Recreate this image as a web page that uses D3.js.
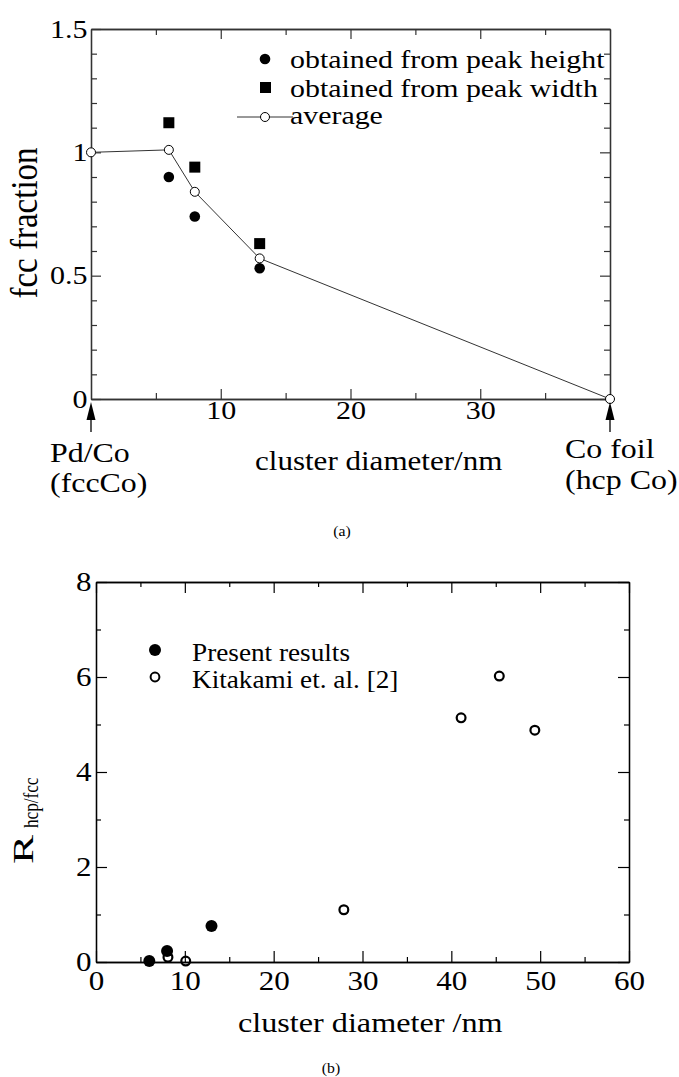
<!DOCTYPE html>
<html>
<head>
<meta charset="utf-8">
<script src="https://cdn.jsdelivr.net/npm/d3@7"></script>
<style>
body{margin:0;background:#fff}
svg{display:block}
text{font-family:"Liberation Serif","Times New Roman",serif;fill:#000}
</style>
</head>
<body>
<script>
// ---- data, panel (a) ----
var heightX = [6, 8, 13];
var heightY = [0.90, 0.74, 0.53];
var widthX = [6, 8, 13];
var widthY = [1.12, 0.94, 0.63];
var avgX = [0, 6, 8, 13, 40];
var avgY = [1.0, 1.01, 0.84, 0.57, 0];
var aXMajor = [10, 20, 30];
var aXMinor = [5, 15, 25, 35];
var aYMajor = [0, 0.5, 1, 1.5];
var aYMinor = [0.1, 0.2, 0.3, 0.4, 0.6, 0.7, 0.8, 0.9, 1.1, 1.2, 1.3, 1.4];
var aLegend = ["obtained from peak height", "obtained from peak width", "average"];

// ---- data, panel (b) ----
var presentX = [6, 8, 13];
var presentY = [0.02, 0.23, 0.76];
var kitaX = [8.1, 10.1, 27.9, 41.1, 45.4, 49.4];
var kitaY = [0.10, 0.02, 1.10, 5.14, 6.02, 4.88];
var bXMajor = [0, 10, 20, 30, 40, 50, 60];
var bXMinor = [5, 15, 25, 35, 45, 55];
var bYMajor = [0, 2, 4, 6, 8];
var bYMinor = [1, 3, 5, 7];
var bLegend = ["Present results", "Kitakami et. al. [2]"];

var FONT = '"Liberation Serif","Times New Roman",serif';

var svg = d3.select("body").append("svg")
    .attr("width", 679)
    .attr("height", 1077);

// text with a little horizontal stretch, like the scanned figure
function label(g, x, y, str, fs, anchor, sx){
  return g.append("text")
    .attr("transform", "translate(" + x + "," + y + ") scale(" + sx + ",1)")
    .attr("font-size", fs)
    .attr("text-anchor", anchor || "start")
    .text(str);
}

// boxed frame with inward ticks on all four sides
function frame(g, x, y, o){
  var x0 = x.range()[0], x1 = x.range()[1];
  var y0 = y.range()[0], y1 = y.range()[1];
  var sides = [
    {ax: d3.axisBottom, sc: x, t: "translate(0," + y0 + ")", maj: o.xMaj, min: o.xMin, lab: o.xLab, pad: o.xPad},
    {ax: d3.axisTop, sc: x, t: "translate(0," + y1 + ")", maj: o.xMaj, min: o.xMin, lab: [], pad: 3},
    {ax: d3.axisLeft, sc: y, t: "translate(" + x0 + ",0)", maj: o.yMaj, min: o.yMin, lab: o.yLab, pad: o.yPad},
    {ax: d3.axisRight, sc: y, t: "translate(" + x1 + ",0)", maj: o.yMaj, min: o.yMin, lab: [], pad: 3}
  ];
  sides.forEach(function(s){
    var gMin = g.append("g").attr("transform", s.t)
      .call(s.ax(s.sc).tickValues(s.min).tickSizeInner(-o.minLen).tickSizeOuter(0).tickFormat(""));
    var gMaj = g.append("g").attr("transform", s.t)
      .call(s.ax(s.sc).tickValues(s.maj).tickSizeInner(-o.majLen).tickSizeOuter(0)
        .tickPadding(s.pad)
        .tickFormat(function(d){ return s.lab.indexOf(d) >= 0 ? d3.format("")(d) : ""; }));
    [gMin, gMaj].forEach(function(a){
      a.attr("font-family", FONT).attr("font-size", o.fs);
      a.selectAll("path.domain").attr("stroke", o.color).attr("stroke-width", 1.3);
      a.selectAll(".tick line").attr("stroke", o.color).attr("stroke-width", 1.2);
      a.selectAll("text").attr("fill", "#000").attr("transform", "scale(" + o.sx + ",1)");
    });
  });
}

// ================= panel (a) =================
var ga = svg.append("g");
var xa = d3.scaleLinear().domain([0, 40]).range([91, 610]);
var ya = d3.scaleLinear().domain([0, 1.5]).range([399, 29]);

frame(ga, xa, ya, {
  xMaj: aXMajor, xMin: aXMinor, xLab: aXMajor, xPad: 2,
  yMaj: aYMajor, yMin: aYMinor, yLab: aYMajor, yPad: 3,
  majLen: 10, minLen: 6, fs: 25, sx: 1.2, color: "#333"
});

// average line
var line = d3.line()
  .x(function(d, i){ return xa(avgX[i]); })
  .y(function(d){ return ya(d); });
ga.append("path")
  .datum(avgY)
  .attr("d", line)
  .attr("fill", "none")
  .attr("stroke", "#333")
  .attr("stroke-width", 1);

ga.selectAll(".hgt")
  .data(heightY)
  .enter()
  .append("circle")
  .attr("cx", function(d, i){ return xa(heightX[i]); })
  .attr("cy", function(d){ return ya(d); })
  .attr("r", 5.3)
  .attr("fill", "#000");

ga.selectAll(".wid")
  .data(widthY)
  .enter()
  .append("rect")
  .attr("x", function(d, i){ return xa(widthX[i]) - 5.5; })
  .attr("y", function(d){ return ya(d) - 5.5; })
  .attr("width", 11)
  .attr("height", 11)
  .attr("fill", "#000");

ga.selectAll(".avg")
  .data(avgY)
  .enter()
  .append("circle")
  .attr("cx", function(d, i){ return xa(avgX[i]); })
  .attr("cy", function(d){ return ya(d); })
  .attr("r", 4.5)
  .attr("fill", "#fff")
  .attr("stroke", "#000")
  .attr("stroke-width", 1);

// legend (a)
ga.append("circle").attr("cx", 265).attr("cy", 59).attr("r", 5.3).attr("fill", "#000");
ga.append("rect").attr("x", 260).attr("y", 82).attr("width", 11).attr("height", 11).attr("fill", "#000");
ga.append("line").attr("x1", 237).attr("x2", 293).attr("y1", 117).attr("y2", 117)
  .attr("stroke", "#333").attr("stroke-width", 1);
ga.append("circle").attr("cx", 265).attr("cy", 117).attr("r", 4.5)
  .attr("fill", "#fff").attr("stroke", "#000").attr("stroke-width", 1);
label(ga, 290, 68, aLegend[0], 26, "start", 1.15);
label(ga, 290, 97, aLegend[1], 26, "start", 1.15);
label(ga, 290, 124, aLegend[2], 26, "start", 1.15);

// arrows marking the two references
[0, 40].forEach(function(v){
  var cx = xa(v), top = ya(0) + 3;
  ga.append("path")
    .attr("d", "M" + cx + "," + top + "L" + (cx - 4.5) + "," + (top + 18) + "L" + (cx + 4.5) + "," + (top + 18) + "Z")
    .attr("fill", "#000");
  ga.append("line").attr("x1", cx).attr("x2", cx).attr("y1", top + 18).attr("y2", top + 30)
    .attr("stroke", "#000").attr("stroke-width", 1.3);
});

label(ga, 50, 462, "Pd/Co", 28, "start", 1.14);
label(ga, 50, 492, "(fccCo)", 28, "start", 1.14);
label(ga, 565, 458, "Co foil", 28, "start", 1.14);
label(ga, 565, 489, "(hcp Co)", 28, "start", 1.14);
label(ga, 255, 470, "cluster diameter/nm", 27, "start", 1.15);

ga.append("text")
  .attr("transform", "translate(37,223) scale(1.12,1) rotate(-90)")
  .attr("text-anchor", "middle")
  .attr("font-size", 33)
  .text("fcc fraction");

label(ga, 342, 536, "(a)", 15, "middle", 1.05);

// ================= panel (b) =================
var gb = svg.append("g");
var xb = d3.scaleLinear().domain([0, 60]).range([96, 629]);
var yb = d3.scaleLinear().domain([0, 8]).range([962, 582]);

frame(gb, xb, yb, {
  xMaj: bXMajor, xMin: bXMinor, xLab: bXMajor, xPad: 9,
  yMaj: bYMajor, yMin: bYMinor, yLab: bYMajor, yPad: 4,
  majLen: 11, minLen: 5, fs: 27, sx: 1.15, color: "#000"
});

gb.selectAll(".pres")
  .data(presentY)
  .enter()
  .append("circle")
  .attr("cx", function(d, i){ return xb(presentX[i]); })
  .attr("cy", function(d){ return yb(d); })
  .attr("r", 6)
  .attr("fill", "#000");

gb.selectAll(".kita")
  .data(kitaY)
  .enter()
  .append("circle")
  .attr("cx", function(d, i){ return xb(kitaX[i]); })
  .attr("cy", function(d){ return yb(d); })
  .attr("r", 4.4)
  .attr("fill", "none")
  .attr("stroke", "#000")
  .attr("stroke-width", 2.2);

// legend (b)
gb.append("circle").attr("cx", 155).attr("cy", 650).attr("r", 6).attr("fill", "#000");
gb.append("circle").attr("cx", 155).attr("cy", 677).attr("r", 4.4)
  .attr("fill", "none").attr("stroke", "#000").attr("stroke-width", 2);
label(gb, 192, 661, bLegend[0], 25, "start", 1.09);
label(gb, 192, 688, bLegend[1], 25, "start", 1.09);

label(gb, 238, 1032, "cluster diameter /nm", 28, "start", 1.15);

// y title: R with subscript hcp/fcc
gb.append("text")
  .attr("transform", "translate(33,864) rotate(-90) scale(1.45,1)")
  .attr("font-size", 30)
  .text("R");
gb.append("text")
  .attr("transform", "translate(38,828) rotate(-90) scale(0.78,1)")
  .attr("font-size", 22)
  .text("hcp/fcc");

label(gb, 331, 1073, "(b)", 15, "middle", 1.05);
</script>
</body>
</html>
